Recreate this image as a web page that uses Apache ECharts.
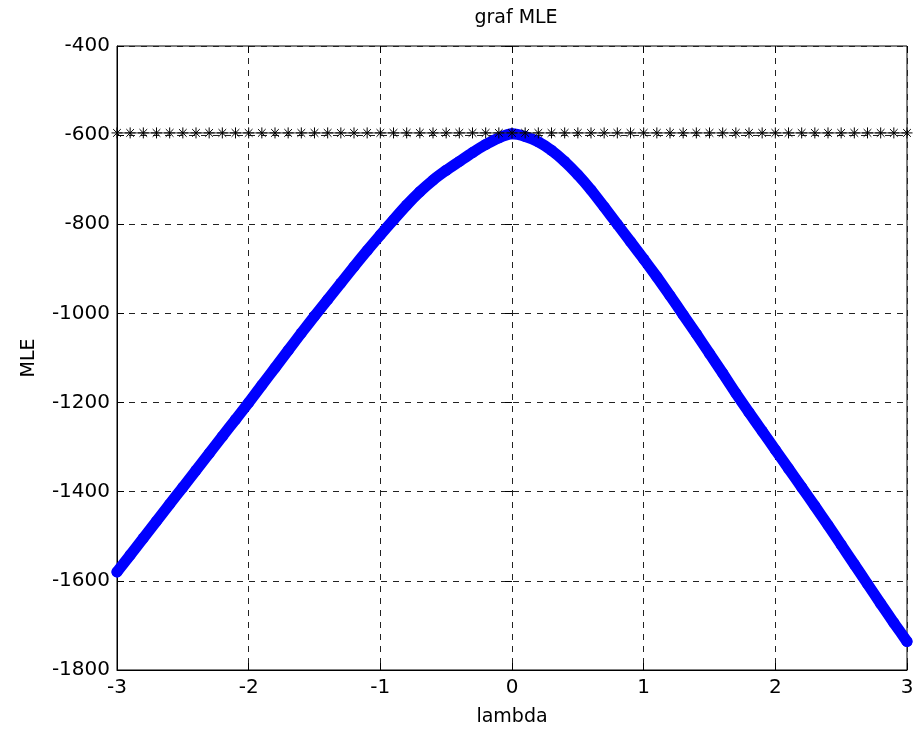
<!DOCTYPE html>
<html>
<head>
<meta charset="utf-8">
<title>graf MLE</title>
<script src="https://cdn.jsdelivr.net/npm/echarts@6/dist/echarts.min.js"></script>
<style>
    html, body { margin: 0; padding: 0; background: #fff; }
    #chart { width: 917px; height: 735px; }
</style>
</head>
<body>
<div id="chart"></div>
<script>
    // lambda values, step 0.1
    var lambda = [-3.0, -2.9, -2.8, -2.7, -2.6, -2.5, -2.4, -2.3, -2.2, -2.1,
        -2.0, -1.9, -1.8, -1.7, -1.6, -1.5, -1.4, -1.3, -1.2, -1.1,
        -1.0, -0.9, -0.8, -0.7, -0.6, -0.5, -0.4, -0.3, -0.2, -0.1,
        0.0, 0.1, 0.2, 0.3, 0.4, 0.5, 0.6, 0.7, 0.8, 0.9,
        1.0, 1.1, 1.2, 1.3, 1.4, 1.5, 1.6, 1.7, 1.8, 1.9,
        2.0, 2.1, 2.2, 2.3, 2.4, 2.5, 2.6, 2.7, 2.8, 2.9, 3.0];
    // MLE curve (blue)
    var mle = [-1580, -1542, -1504, -1466, -1428, -1390, -1352, -1314, -1276, -1238,
        -1200, -1161, -1122, -1083, -1044, -1006, -969, -932, -895, -859,
        -824, -790, -757, -727, -701, -679, -659, -639, -621, -606,
        -597, -603, -615, -634, -659, -689, -723, -761, -800, -839,
        -878, -918, -960, -1003, -1046, -1090, -1134, -1179, -1222, -1264,
        -1306, -1348, -1390, -1432, -1475, -1519, -1563, -1607, -1651, -1694, -1736];
    // maximum line (asterisks)
    var mleMax = [-595, -595, -595, -595, -595, -595, -595, -595, -595, -595,
        -595, -595, -595, -595, -595, -595, -595, -595, -595, -595,
        -595, -595, -595, -595, -595, -595, -595, -595, -595, -595,
        -595, -595, -595, -595, -595, -595, -595, -595, -595, -595,
        -595, -595, -595, -595, -595, -595, -595, -595, -595, -595,
        -595, -595, -595, -595, -595, -595, -595, -595, -595, -595, -595];
    var xTicks = [-3, -2, -1, 0, 1, 2, 3];
    var yTicks = [-1800, -1600, -1400, -1200, -1000, -800, -600, -400];

    var font = 'DejaVu Sans';
    var chart = echarts.init(document.getElementById('chart'));

    var curveData = lambda.map(function (x, i) { return [x, mle[i]]; });
    var maxData = lambda.map(function (x, i) { return [x, mleMax[i]]; });
    var star = 'path://M0,-10L0,10M-10,0L10,0M-7,-7L7,7M-7,7L7,-7';

    var hiddenAxis = {
        axisLine: { show: false },
        axisTick: { show: true, inside: true, length: 7, lineStyle: { color: '#000' } },
        axisLabel: { show: false },
        splitLine: { show: false }
    };

    var option = {
        animation: false,
        backgroundColor: '#fff',
        title: {
            text: 'graf MLE',
            left: 511,
            textAlign: 'center',
            top: 4,
            textStyle: { fontFamily: font, fontSize: 19, fontWeight: 'normal', color: '#000' }
        },
        grid: {
            left: 117, right: 10, top: 46, bottom: 65,
            show: true, borderColor: '#000', borderWidth: 1, backgroundColor: '#fff'
        },
        xAxis: [{
            type: 'value',
            min: xTicks[0], max: xTicks[xTicks.length - 1], interval: 1,
            name: 'lambda', nameLocation: 'middle', nameGap: 38,
            nameTextStyle: { fontFamily: font, fontSize: 19, color: '#000' },
            axisLine: { show: true, onZero: false, lineStyle: { color: '#000' } },
            axisTick: { show: true, inside: true, length: 7, lineStyle: { color: '#000' } },
            axisLabel: { fontFamily: font, fontSize: 20, color: '#000', margin: 8 },
            splitLine: { show: true, lineStyle: { color: '#222', type: [6, 6], width: 1 } }
        }, Object.assign({
            type: 'value', position: 'top',
            min: xTicks[0], max: xTicks[xTicks.length - 1], interval: 1
        }, hiddenAxis)],
        yAxis: [{
            type: 'value',
            min: yTicks[0], max: yTicks[yTicks.length - 1], interval: 200,
            name: 'MLE', nameLocation: 'middle', nameGap: 78, nameRotate: 90,
            nameTextStyle: { fontFamily: font, fontSize: 19, color: '#000' },
            axisLine: { show: true, onZero: false, lineStyle: { color: '#000' } },
            axisTick: { show: true, inside: true, length: 7, lineStyle: { color: '#000' } },
            axisLabel: {
                fontFamily: font, fontSize: 20, color: '#000', margin: 7,
                formatter: function (v) { return String(v); }
            },
            splitLine: { show: true, lineStyle: { color: '#222', type: [6, 6], width: 1 } }
        }, Object.assign({
            type: 'value', position: 'right',
            min: yTicks[0], max: yTicks[yTicks.length - 1], interval: 200
        }, hiddenAxis)],
        series: [{
            name: 'MLE',
            type: 'line',
            data: curveData,
            smooth: 0.2,
            showAllSymbol: true,
            symbol: 'circle',
            symbolSize: 11,
            itemStyle: { color: '#0000ff' },
            lineStyle: { color: '#0000ff', width: 11, cap: 'round', join: 'round' },
            z: 2
        }, {
            name: 'max',
            type: 'line',
            data: maxData,
            showAllSymbol: true,
            symbol: star,
            symbolSize: 11,
            itemStyle: { color: 'none', borderColor: '#000', borderWidth: 1 },
            lineStyle: { color: '#333', width: 1 },
            z: 3
        }]
    };
    chart.setOption(option);
</script>
</body>
</html>
